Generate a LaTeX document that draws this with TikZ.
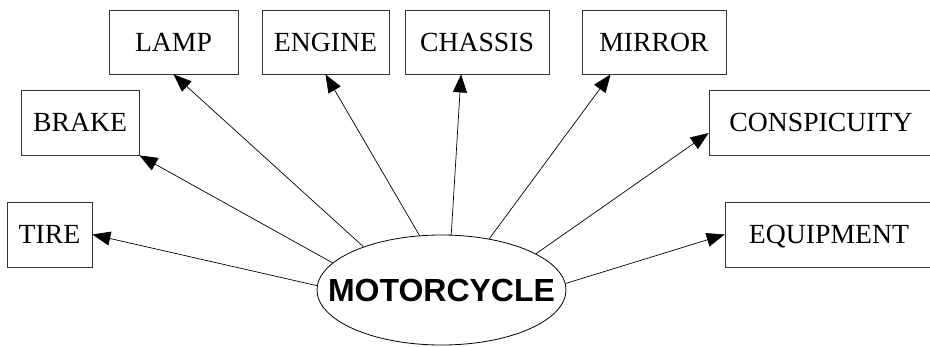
\documentclass[tikz,border=0pt]{standalone}
\usepackage{fontspec}
\setmainfont{Liberation Serif}
\newfontfamily\hubfont{Liberation Sans}
\usetikzlibrary{shapes.geometric,arrows.meta,calc}
\tikzset{
  partbox/.style={draw=black!80, line width=0.8pt, rectangle, inner sep=0pt,
    minimum height=65pt, font=\fontsize{27.7}{30}\selectfont,
    text height=18.4pt, text depth=0pt},
  hub/.style={draw=black, line width=0.8pt, ellipse, inner xsep=-60pt, inner ysep=-10pt,
    minimum width=249pt, minimum height=110pt,
    font=\hubfont\bfseries\fontsize{32}{34}\selectfont,
    text height=23pt, text depth=0pt},
  link/.style={draw=black, line width=0.7pt, -{Triangle[length=18pt,width=14pt]}}
}
\begin{document}
\begin{tikzpicture}[x=1pt,y=-1pt]
\path[use as bounding box] (0,0) rectangle (930,346);
\clip (0,0) rectangle (930,346);
\fill[white] (0,0) rectangle (930,346);
\node[partbox, minimum width=85pt]  (tire)    at (49.5,234.5) {TIRE};
\node[partbox, minimum width=118pt] (brake)   at (80,122.5)   {BRAKE};
\node[partbox, minimum width=129pt, minimum height=64pt] (lamp)   at (173.5,42) {LAMP};
\node[partbox, minimum width=127pt, minimum height=64pt] (engine) at (325.5,42) {ENGINE};
\node[partbox, minimum width=144pt, minimum height=64pt] (chassis) at (477,42) {CHASSIS};
\node[partbox, minimum width=144pt, minimum height=64pt] (mirror) at (654,42) {MIRROR};
\node[partbox, minimum width=224pt] (consp)   at (821,122.5)  {CONSPICUITY};
\node[partbox, minimum width=208pt] (equip)   at (829,234.5)  {EQUIPMENT};
\node[hub] (moto) at (441.5,290) {MOTORCYCLE};
\draw[link] (moto.178.6) -- (tire.east);
\draw[link] (moto.166.1) -- (brake.south east);
\draw[link] (moto.151.3) -- (lamp.south);
\draw[link] (moto.112.2) -- (engine.south);
\draw[link] (moto.80.2) -- ($(chassis.south west)!0.39!(chassis.south east)$);
\draw[link] (moto.47.2) -- ($(mirror.south west)!0.2!(mirror.south east)$);
\draw[link] (moto.21.6) -- ($(consp.north west)!0.66!(consp.south west)$);
\draw[link] (moto.3.7) -- (equip.west);
\end{tikzpicture}
\end{document}
